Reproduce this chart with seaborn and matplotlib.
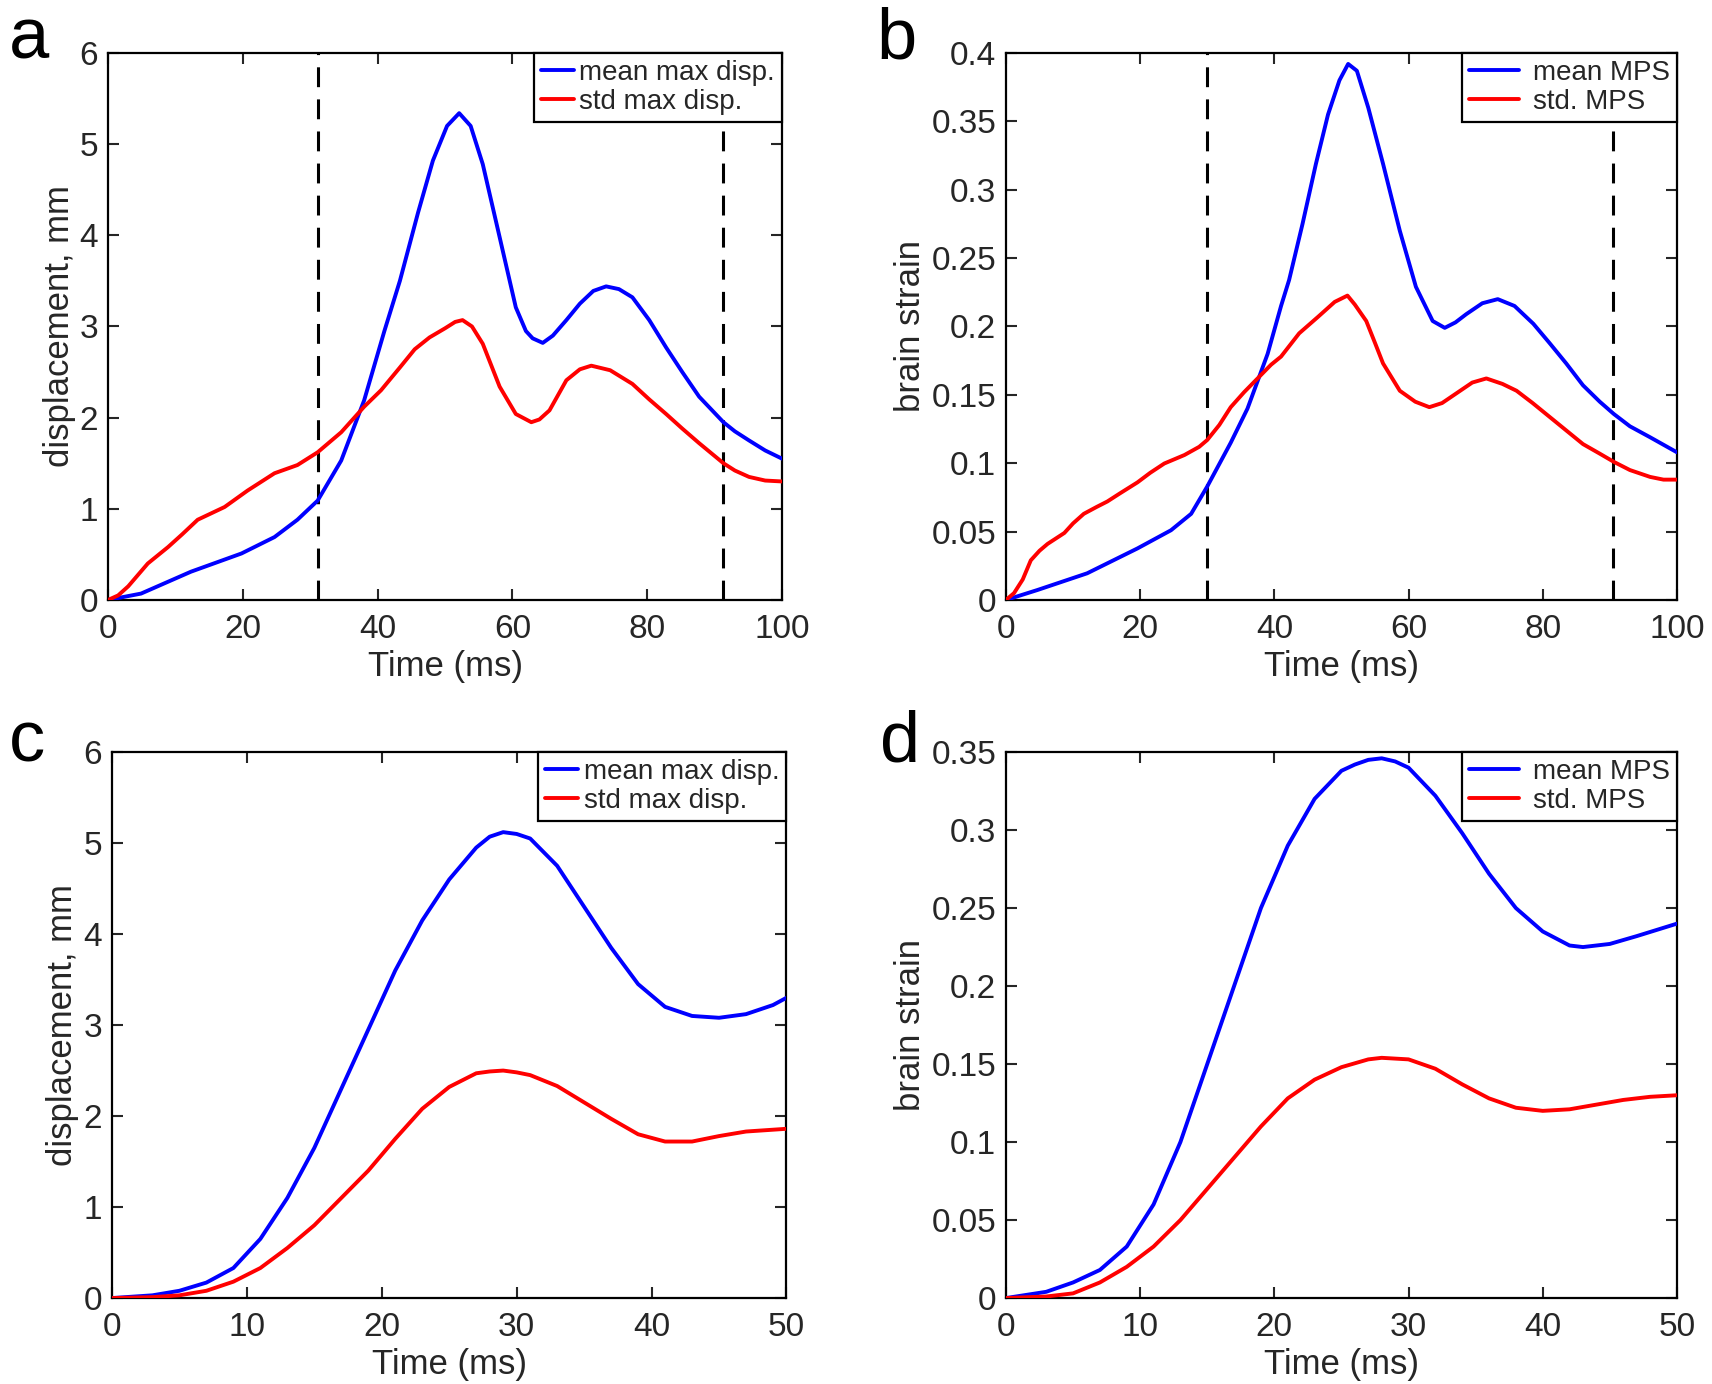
import numpy as np
import pandas as pd
import seaborn as sns
import matplotlib
matplotlib.use('Agg')
import matplotlib.pyplot as plt
from matplotlib.ticker import FuncFormatter

# panel a: displacement, 0-100 ms
t_a_mean = [0, 4.9, 12.3, 19.8, 24.7, 28.1, 31.1, 34.6, 38, 41, 43.3, 46, 48.2, 50.3, 52.1, 53.8,
            55.6, 58.1, 60.5, 62, 63, 64.5, 66, 68, 70, 72, 73.9, 75.8, 77.8, 80.3, 82.8, 85.2,
            87.7, 91.3, 93, 95.1, 97.5, 100]
a_mean = [0, 0.07, 0.31, 0.51, 0.69, 0.88, 1.09, 1.53, 2.19, 2.95, 3.5, 4.25, 4.82, 5.2, 5.34,
          5.2, 4.78, 3.98, 3.21, 2.95, 2.87, 2.82, 2.9, 3.07, 3.25, 3.39, 3.44, 3.41, 3.32, 3.07,
          2.77, 2.5, 2.23, 1.95, 1.85, 1.75, 1.64, 1.55]
t_a_std = [0, 1.5, 3, 5.9, 8.9, 11, 13.3, 17.3, 20.7, 24.7, 28.1, 31.1, 34.6, 38, 40.5, 43.3,
           45.5, 47.7, 50, 51.5, 52.6, 54, 55.6, 58.1, 60.5, 62.8, 64, 65.5, 68, 70, 71.7, 74.5,
           77.8, 80.3, 82.8, 85.2, 87.7, 91.3, 93, 95.1, 97.5, 100]
a_std = [0, 0.05, 0.15, 0.4, 0.58, 0.72, 0.88, 1.02, 1.2, 1.39, 1.48, 1.62, 1.84, 2.12, 2.3, 2.55,
         2.75, 2.88, 2.98, 3.05, 3.07, 3.0, 2.81, 2.34, 2.04, 1.95, 1.98, 2.08, 2.41, 2.53, 2.57,
         2.52, 2.37, 2.2, 2.04, 1.88, 1.72, 1.5, 1.42, 1.35, 1.31, 1.3]

# panel b: brain strain, 0-100 ms
t_b_mean = [0, 4.7, 12.1, 19.6, 24.6, 27.6, 30, 33.5, 36, 37.5, 39, 41, 42.2, 44.2, 46.2, 48,
            49.7, 51, 52.3, 54, 56.2, 58.7, 61.1, 63.6, 65.4, 67, 68.6, 71, 73.3, 75.8, 78.6, 81,
            83.5, 86, 88.5, 90.6, 93, 96, 100]
b_mean = [0, 0.0073, 0.0195, 0.0377, 0.051, 0.063, 0.083, 0.115, 0.14, 0.16, 0.18, 0.215, 0.234,
          0.275, 0.319, 0.355, 0.38, 0.392, 0.387, 0.36, 0.319, 0.27, 0.229, 0.204, 0.199, 0.203,
          0.209, 0.217, 0.22, 0.215, 0.202, 0.188, 0.173, 0.157, 0.145, 0.136, 0.127, 0.119, 0.108]
t_b_std = [0, 1.2, 2.5, 3.7, 5, 6.2, 8.7, 10, 11.6, 13.5, 15.1, 17, 19.6, 21.5, 23.6, 26.6, 28.8,
           30, 31.8, 33.5, 35.5, 37.5, 39.5, 41, 43.7, 46.5, 49, 50.9, 52, 53.7, 55, 56.2, 58.7,
           61, 63.1, 65, 67.1, 69.5, 71.6, 74, 76.1, 78.5, 81, 83.5, 86, 88.5, 90.6, 93, 96, 98, 100]
b_std = [0, 0.005, 0.015, 0.029, 0.036, 0.041, 0.049, 0.056, 0.063, 0.068, 0.072, 0.078, 0.086,
         0.093, 0.0998, 0.106, 0.112, 0.117, 0.128, 0.141, 0.152, 0.162, 0.172, 0.178, 0.195,
         0.207, 0.218, 0.2226, 0.216, 0.204, 0.188, 0.173, 0.153, 0.145, 0.141, 0.144, 0.151,
         0.159, 0.162, 0.158, 0.153, 0.144, 0.134, 0.124, 0.114, 0.107, 0.101, 0.095, 0.09,
         0.088, 0.088]

# panel c: displacement, 0-50 ms
t_c = [0, 3, 5, 7, 9, 11, 13, 15, 17, 19, 21, 23, 25, 27, 28, 29, 30, 31, 33, 35, 37, 39, 41, 43,
       45, 47, 49, 50]
c_mean = [0, 0.03, 0.08, 0.17, 0.33, 0.65, 1.1, 1.65, 2.3, 2.95, 3.6, 4.15, 4.6, 4.95, 5.07, 5.12,
          5.1, 5.05, 4.75, 4.3, 3.85, 3.45, 3.2, 3.1, 3.08, 3.12, 3.22, 3.3]
c_std = [0, 0.01, 0.03, 0.08, 0.18, 0.33, 0.55, 0.8, 1.1, 1.4, 1.75, 2.08, 2.32, 2.47, 2.49, 2.5,
         2.48, 2.45, 2.33, 2.15, 1.97, 1.8, 1.72, 1.72, 1.78, 1.83, 1.85, 1.86]

# panel d: brain strain, 0-50 ms
t_d_mean = [0, 3, 5, 7, 9, 11, 13, 15, 17, 19, 21, 23, 25, 26, 27, 28, 29, 30, 32, 34, 36, 38, 40,
            42, 43, 45, 47, 50]
d_mean = [0, 0.004, 0.01, 0.018, 0.033, 0.06, 0.1, 0.15, 0.2, 0.25, 0.29, 0.32, 0.338, 0.342,
          0.345, 0.346, 0.344, 0.34, 0.322, 0.298, 0.272, 0.25, 0.235, 0.226, 0.225, 0.227, 0.232,
          0.24]
t_d_std = [0, 3, 5, 7, 9, 11, 13, 15, 17, 19, 21, 23, 25, 27, 28, 30, 32, 34, 36, 38, 40, 42, 44,
           46, 48, 50]
d_std = [0, 0.001, 0.003, 0.01, 0.02, 0.033, 0.05, 0.07, 0.09, 0.11, 0.128, 0.14, 0.148, 0.153,
         0.154, 0.153, 0.147, 0.137, 0.128, 0.122, 0.12, 0.121, 0.124, 0.127, 0.129, 0.13]

vlines_a = [31.2, 91.3]
vlines_b = [30, 90.5]

sns.set_style('ticks')
plt.rcParams['font.family'] = ['Liberation Sans', 'DejaVu Sans']

fig = plt.figure(figsize=(17.12, 13.84), dpi=100)
ax_a = fig.add_axes([0.0631, 0.5665, 0.3937, 0.3952])
ax_b = fig.add_axes([0.5876, 0.5665, 0.3919, 0.3952])
ax_c = fig.add_axes([0.0654, 0.0621, 0.394, 0.3945])
ax_d = fig.add_axes([0.5876, 0.0621, 0.3919, 0.3945])

fmt = FuncFormatter(lambda v, p: '%g' % round(v, 4))
txt_col = '#262626'


def draw(ax, t1, y1, t2, y2, labels, xmax, ymax, ystep, ylabel, vl=None, hl=1.2, htp=0.2):
    if vl:
        for v in vl:
            ax.axvline(v, color='black', lw=2.2, ls=(0, (6.5, 4)), zorder=1)
    sns.lineplot(x=t1, y=y1, color='#0000ff', lw=2.8, label=labels[0], ax=ax, sort=False, zorder=3)
    sns.lineplot(x=t2, y=y2, color='#ff0000', lw=2.8, label=labels[1], ax=ax, sort=False, zorder=3)
    ax.set_xlim(0, xmax)
    ax.set_ylim(0, ymax)
    ax.set_xticks(np.linspace(0, xmax, 6))
    ax.set_yticks(np.arange(0, ymax + ystep / 2, ystep))
    ax.xaxis.set_major_formatter(fmt)
    ax.yaxis.set_major_formatter(fmt)
    ax.tick_params(direction='in', top=True, right=True, length=8, width=1.5,
                   labelsize=24, colors=txt_col)
    ax.tick_params(axis='x', pad=10)
    ax.tick_params(axis='y', pad=7)
    for s in ax.spines.values():
        s.set_linewidth(1.6)
        s.set_color('black')
    ax.set_xlabel('Time (ms)', fontsize=25, color=txt_col, labelpad=4)
    ax.set_ylabel(ylabel, fontsize=25, color=txt_col, labelpad=3)
    leg = ax.legend(loc='upper right', borderaxespad=0, fancybox=False, edgecolor='black',
                    framealpha=1, fontsize=20, handlelength=hl, handletextpad=htp,
                    borderpad=0.25, labelspacing=0.1)
    leg.get_frame().set_linewidth(1.6)
    for t in leg.get_texts():
        t.set_color(txt_col)


draw(ax_a, t_a_mean, a_mean, t_a_std, a_std, ['mean max disp.', 'std max disp.'],
     100, 6, 1, 'displacement, mm', vlines_a)
draw(ax_b, t_b_mean, b_mean, t_b_std, b_std, ['mean MPS', 'std. MPS'],
     100, 0.4, 0.05, 'brain strain', vlines_b, hl=1.8, htp=0.5)
draw(ax_c, t_c, c_mean, t_c, c_std, ['mean max disp.', 'std max disp.'],
     50, 6, 1, 'displacement, mm')
draw(ax_d, t_d_mean, d_mean, t_d_std, d_std, ['mean MPS', 'std. MPS'],
     50, 0.35, 0.05, 'brain strain', hl=1.8, htp=0.5)

for txt, x, y in [('a', 0.005, 0.958), ('b', 0.512, 0.958), ('c', 0.005, 0.45), ('d', 0.514, 0.45)]:
    fig.text(x, y, txt, fontsize=52, color='black', va='baseline')

fig.savefig('out.png', dpi=100)
